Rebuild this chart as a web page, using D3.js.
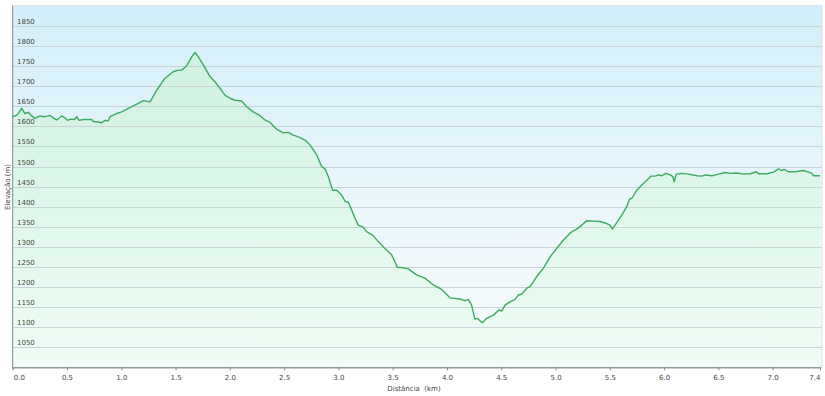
<!DOCTYPE html>
<html>
<head>
<meta charset="utf-8">
<script src="https://cdnjs.cloudflare.com/ajax/libs/d3/7.8.5/d3.min.js"></script>
<style>
  html, body { margin: 0; padding: 0; background: #fff; }
  svg { display: block; font-family: "DejaVu Sans", Verdana, sans-serif; }
</style>
</head>
<body>
<svg id="chart" width="825" height="396"></svg>
<script>
// distance along the track (km)
const distKm = [0.000, 0.040, 0.083, 0.113, 0.144, 0.175, 0.205, 0.251, 0.282, 0.328, 0.344, 0.374,
  0.405, 0.451, 0.482, 0.503, 0.534, 0.568, 0.589, 0.611, 0.650, 0.727, 0.743, 0.789, 0.820, 0.850,
  0.881, 0.896, 0.958, 1.004, 1.065, 1.157, 1.203, 1.265, 1.326, 1.403, 1.479, 1.525, 1.557, 1.603,
  1.649, 1.679, 1.710, 1.756, 1.817, 1.863, 1.909, 1.955, 2.001, 2.048, 2.109, 2.155, 2.216, 2.278,
  2.324, 2.370, 2.431, 2.492, 2.538, 2.585, 2.631, 2.692, 2.738, 2.800, 2.846, 2.877, 2.907, 2.947,
  2.984, 3.030, 3.061, 3.091, 3.122, 3.153, 3.183, 3.229, 3.260, 3.321, 3.367, 3.429, 3.490, 3.521,
  3.542, 3.597, 3.643, 3.721, 3.797, 3.874, 3.951, 4.028, 4.120, 4.165, 4.196, 4.227, 4.257, 4.279,
  4.304, 4.325, 4.366, 4.427, 4.482, 4.504, 4.535, 4.581, 4.627, 4.658, 4.688, 4.735, 4.765, 4.827,
  4.888, 4.950, 5.011, 5.073, 5.134, 5.165, 5.195, 5.241, 5.287, 5.348, 5.410, 5.471, 5.502, 5.523,
  5.556, 5.610, 5.656, 5.681, 5.703, 5.749, 5.795, 5.841, 5.877, 5.917, 5.948, 5.979, 6.016, 6.056,
  6.081, 6.093, 6.112, 6.164, 6.226, 6.303, 6.349, 6.379, 6.441, 6.502, 6.563, 6.609, 6.671, 6.732,
  6.794, 6.849, 6.870, 6.947, 7.008, 7.054, 7.085, 7.106, 7.146, 7.207, 7.284, 7.330, 7.361, 7.376,
  7.436];

// elevation (m)
const elevM = [1624, 1628, 1645, 1632, 1635, 1626, 1620, 1626, 1624, 1626, 1627, 1621,
  1616, 1626, 1621, 1615, 1618, 1617, 1624, 1615, 1617, 1617, 1612, 1611, 1609, 1615,
  1614, 1624, 1632, 1636, 1645, 1657, 1664, 1661, 1690, 1720, 1736, 1740, 1740, 1751,
  1773, 1784, 1773, 1753, 1724, 1711, 1695, 1678, 1670, 1665, 1663, 1649, 1636, 1627,
  1616, 1610, 1593, 1584, 1585, 1578, 1574, 1566, 1554, 1529, 1500, 1494, 1475, 1441,
  1441, 1429, 1414, 1411, 1392, 1371, 1354, 1349, 1338, 1328, 1313, 1296, 1280, 1263,
  1249, 1248, 1245, 1230, 1222, 1205, 1194, 1173, 1170, 1166, 1169, 1155, 1120, 1122,
  1116, 1111, 1122, 1130, 1143, 1140, 1155, 1163, 1169, 1180, 1182, 1197, 1201, 1226,
  1247, 1275, 1296, 1317, 1334, 1340, 1344, 1354, 1365, 1364, 1363, 1358, 1354, 1344,
  1357, 1379, 1400, 1419, 1421, 1441, 1454, 1466, 1476, 1476, 1479, 1477, 1483, 1479,
  1475, 1462, 1481, 1483, 1481, 1477, 1476, 1479, 1477, 1481, 1485, 1483, 1484, 1481,
  1482, 1487, 1482, 1482, 1486, 1494, 1490, 1493, 1487, 1487, 1490, 1486, 1483, 1477,
  1477];

const yTicks = [1050, 1100, 1150, 1200, 1250, 1300, 1350, 1400, 1450, 1500, 1550, 1600, 1650, 1700, 1750, 1800, 1850];
const xTicks = [0, 0.5, 1.0, 1.5, 2.0, 2.5, 3.0, 3.5, 4.0, 4.5, 5.0, 5.5, 6.0, 6.5, 7.0, 7.436];
const xTitle = "Distância  (km)";
const yTitle = "Elevação (m)";

const points = distKm.map((d, i) => ({ d, e: elevM[i] }));

const plotLeft = 12.7, plotRight = 820, plotTop = 5.5, plotBottom = 367.3;

const x = d3.scaleLinear().domain([0, d3.max(distKm)]).range([plotLeft, plotRight]);
const y = d3.scaleLinear().domain([1000, 1900]).range([plotBottom, 5.9]);

const svg = d3.select("#chart");
const defs = svg.append("defs");

const bg = defs.append("linearGradient").attr("id", "bg")
  .attr("x1", 0).attr("y1", 0).attr("x2", 0).attr("y2", 1);
bg.append("stop").attr("offset", "0%").attr("stop-color", "#d3eff9");
bg.append("stop").attr("offset", "75%").attr("stop-color", "#f2f9fc");
bg.append("stop").attr("offset", "100%").attr("stop-color", "#f0faf6");

const fill = defs.append("linearGradient").attr("id", "fill")
  .attr("gradientUnits", "userSpaceOnUse")
  .attr("x1", 0).attr("y1", plotTop).attr("x2", 0).attr("y2", plotBottom);
fill.append("stop").attr("offset", "0%").attr("stop-color", "#cbf0de");
fill.append("stop").attr("offset", "100%").attr("stop-color", "#effcf5");

// plot background
svg.append("rect")
  .attr("x", plotLeft).attr("y", plotTop)
  .attr("width", plotRight - plotLeft + 2).attr("height", plotBottom - plotTop)
  .attr("fill", "url(#bg)")
  .attr("stroke", "#dde3e6");

// area under the profile
svg.append("path")
  .datum(points)
  .attr("fill", "url(#fill)")
  .attr("d", d3.area().x(p => x(p.d)).y0(plotBottom).y1(p => y(p.e)));

// grid lines
svg.append("g").selectAll("line")
  .data(yTicks)
  .join("line")
  .attr("x1", plotLeft).attr("x2", plotRight + 2)
  .attr("y1", d => Math.round(y(d)) + 0.5).attr("y2", d => Math.round(y(d)) + 0.5)
  .attr("stroke", "#c9d4d9")
  .attr("stroke-width", 1.2);

// profile line
svg.append("path")
  .datum(points)
  .attr("fill", "none")
  .attr("stroke", "#3dab60")
  .attr("stroke-width", 1.4)
  .attr("stroke-linejoin", "round")
  .attr("d", d3.line().x(p => x(p.d)).y(p => y(p.e)));

// y labels sit just above each grid line
svg.append("g").selectAll("text")
  .data(yTicks)
  .join("text")
  .attr("x", 17)
  .attr("y", d => y(d) - 2)
  .attr("font-size", 7)
  .attr("fill", "#444")
  .text(d => d);

// left axis line
svg.append("line")
  .attr("x1", plotLeft).attr("x2", plotLeft)
  .attr("y1", plotTop).attr("y2", plotBottom + 2)
  .attr("stroke", "#8c8c8c");

// bottom axis
const xAxis = svg.append("g")
  .attr("transform", `translate(0,${plotBottom})`)
  .call(d3.axisBottom(x).tickValues(xTicks).tickFormat(d3.format(".1f")).tickSizeInner(3).tickSizeOuter(0));
xAxis.select(".domain").attr("stroke", "#999").attr("stroke-width", 1.5);
xAxis.selectAll(".tick line").attr("stroke", "#888");
xAxis.selectAll(".tick text")
  .attr("font-size", 7)
  .attr("font-family", "DejaVu Sans, Verdana, sans-serif")
  .attr("fill", "#444")
  .attr("dy", "0.9em")
  .attr("text-anchor", (d, i) => i === 0 ? "start" : (i === xTicks.length - 1 ? "end" : "middle"))
  .attr("dx", (d, i) => i === 0 ? 0.5 : 0);

// axis titles
svg.append("text")
  .attr("x", 414).attr("y", 390.5)
  .attr("text-anchor", "middle")
  .attr("font-size", 7)
  .attr("fill", "#444")
  .style("white-space", "pre")
  .text(xTitle);

svg.append("text")
  .attr("transform", "translate(9.5,187) rotate(-90)")
  .attr("text-anchor", "middle")
  .attr("font-size", 7)
  .attr("fill", "#444")
  .text(yTitle);
</script>
</body>
</html>
